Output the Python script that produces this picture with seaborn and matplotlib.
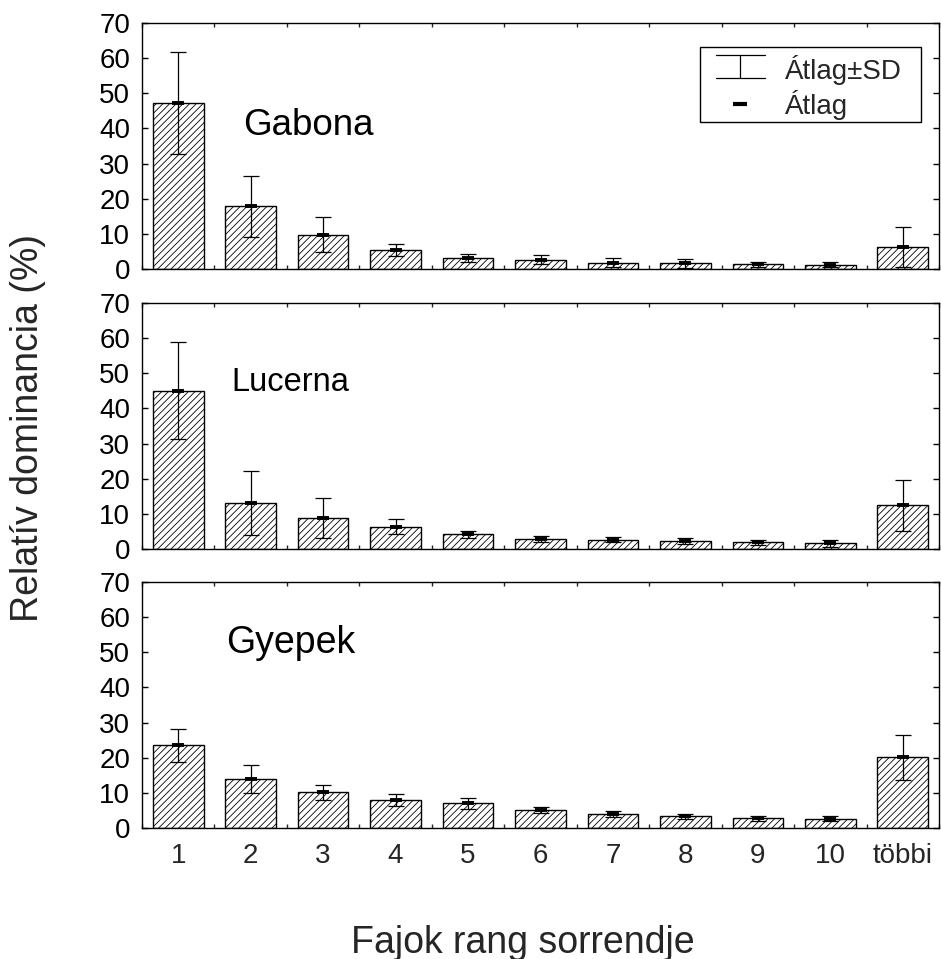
import numpy as np
import pandas as pd
import matplotlib
matplotlib.use("Agg")
import matplotlib.pyplot as plt
import seaborn as sns
from matplotlib.legend_handler import HandlerBase
from matplotlib.lines import Line2D
from matplotlib.patches import Rectangle

# ---------------- data ----------------
categories = ["1", "2", "3", "4", "5", "6", "7", "8", "9", "10", "többi"]

gabona_mean = [47.2, 17.8, 9.8, 5.4, 3.1, 2.6, 1.8, 1.6, 1.3, 1.2, 6.3]
gabona_sd = [14.5, 8.8, 4.9, 1.8, 1.1, 1.3, 1.2, 1.3, 0.7, 0.7, 5.6]

lucerna_mean = [45.0, 13.1, 8.8, 6.3, 4.2, 2.9, 2.6, 2.2, 1.9, 1.6, 12.4]
lucerna_sd = [13.8, 9.2, 5.6, 2.1, 1.0, 0.9, 0.7, 0.8, 0.8, 0.9, 7.2]

gyepek_mean = [23.5, 13.9, 10.2, 8.0, 7.0, 5.2, 4.0, 3.3, 2.8, 2.6, 20.1]
gyepek_sd = [4.6, 4.0, 2.1, 1.6, 1.6, 0.9, 0.8, 0.7, 0.7, 0.7, 6.4]

panel_names = ["Gabona", "Lucerna", "Gyepek"]
y_ticks = [0, 10, 20, 30, 40, 50, 60, 70]

x_label = "Fajok rang sorrendje"
y_label = "Relatív dominancia (%)"
legend_labels = ["Átlag±SD", "Átlag"]

# ---------------- style ----------------
sns.set_style("white")
plt.rcParams["font.family"] = ["Liberation Sans", "DejaVu Sans"]
plt.rcParams["hatch.linewidth"] = 0.6
plt.rcParams["axes.linewidth"] = 1.0

W, H = 941, 959
fig = plt.figure(figsize=(W / 100, H / 100), dpi=100)

ax_left = 142 / W
ax_width = 797 / W
panel_px = [(23, 269), (303, 549), (582, 828)]
label_pos = [(0.89, 38.1), (0.74, 45.0), (0.66, 49.7)]
label_size = [26.5, 23.5, 27]

series = [(gabona_mean, gabona_sd), (lucerna_mean, lucerna_sd), (gyepek_mean, gyepek_sd)]

axes = []
for i, ((top, bot), (m, s), name) in enumerate(zip(panel_px, series, panel_names)):
    ax = fig.add_axes([ax_left, 1 - bot / H, ax_width, (bot - top) / H])
    axes.append(ax)
    df = pd.DataFrame({"rank": categories, "mean": m, "sd": s})
    sns.barplot(data=df, x="rank", y="mean", order=categories, color="white",
                edgecolor="black", linewidth=1.0, hatch="/////", width=0.7,
                errorbar=None, ax=ax)
    xs = np.arange(len(categories))
    ax.errorbar(xs, df["mean"], yerr=df["sd"], fmt="none", ecolor="black",
                elinewidth=0.9, capsize=6, capthick=0.9, zorder=5)
    ax.plot(xs, df["mean"], ls="none", marker="_", ms=9, mew=2.8,
            color="black", zorder=6)

    ax.set_xlim(-0.5, len(categories) - 0.5)
    ax.set_ylim(0, 70)
    ax.set_yticks(y_ticks)
    ax.set_xticks(xs)
    ax.set_xticks(np.arange(-0.5, len(categories), 1.0), minor=True)
    ax.tick_params(axis="y", which="major", direction="in", length=4, width=1,
                   left=True, right=True, labelsize=20, pad=8.5, colors="black")
    ax.tick_params(axis="x", which="major", length=0, labelsize=20, pad=11)
    ax.tick_params(axis="x", which="minor", direction="in", length=3, width=1,
                   top=True, bottom=True)
    if i < 2:
        ax.set_xticklabels([])
    else:
        ax.set_xticklabels(categories)
    ax.set_xlabel("")
    ax.set_ylabel("")
    for sp in ax.spines.values():
        sp.set_visible(True)
        sp.set_color("black")
        sp.set_linewidth(1.0)
    lx, ly = label_pos[i]
    ax.text(lx, ly, name, fontsize=label_size[i], ha="left", va="baseline",
            color="black")


class IBeamHandler(HandlerBase):
    def create_artists(self, legend, orig_handle, xdescent, ydescent, width,
                       height, fontsize, trans):
        x0 = -xdescent
        x1 = x0 + width
        xm = (x0 + x1) / 2
        yc = -ydescent + height / 2 + 0.1 * fontsize
        h = 0.41 * fontsize
        kw = dict(color="black", lw=0.9, transform=trans)
        return [Line2D([x0, x1], [yc + h, yc + h], **kw),
                Line2D([x0, x1], [yc - h, yc - h], **kw),
                Line2D([xm, xm], [yc - h, yc + h], **kw)]


ax0 = axes[0]
ibeam = Line2D([], [], color="black")
dash = Line2D([], [], ls="none", marker="_", ms=10, mew=3, color="black")
leg = ax0.legend([ibeam, dash], legend_labels, loc="upper left",
                 bbox_to_anchor=(0.720, 0.869), fontsize=20,
                 frameon=False, borderpad=0, borderaxespad=0,
                 labelspacing=0.17, handlelength=1.76, handletextpad=0.72,
                 handler_map={ibeam: IBeamHandler()})
frame = Rectangle((0.700, 0.598), 0.278, 0.3057, transform=ax0.transAxes,
                  fill=True, facecolor="white", edgecolor="black", lw=1.0,
                  zorder=8)
ax0.add_patch(frame)
leg.set_zorder(9)

fig.text(523 / W, 1 - 952.7 / H, x_label, fontsize=27, ha="center", va="baseline")
fig.text(28 / W, 1 - 427.5 / H, y_label, fontsize=27, ha="center", va="center",
         rotation=90)

fig.savefig("out.png", dpi=100)
